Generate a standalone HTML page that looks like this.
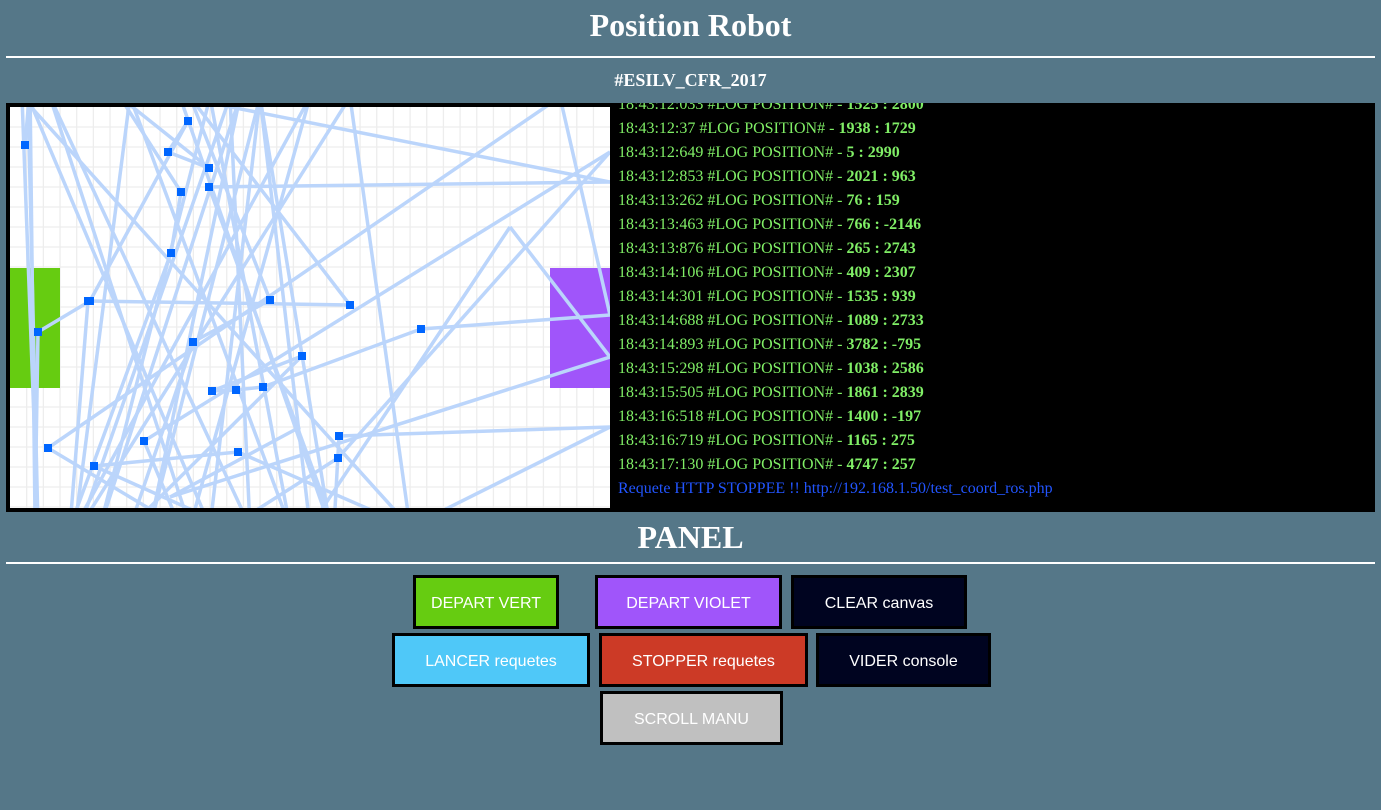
<!DOCTYPE html>
<html><head><meta charset="utf-8"><style>
body{margin:0;width:1381px;height:810px;background:#557788;font-family:"Liberation Serif",serif;color:#fff;overflow:hidden;position:relative}
h1{position:absolute;top:5px;left:0;width:1381px;margin:0;text-align:center;font-size:32px;font-weight:bold;line-height:40px}
.hr{position:absolute;left:6px;width:1369px;height:2px;background:#fff}
.sub{position:absolute;top:68px;left:0;width:1381px;text-align:center;font-size:18px;font-weight:bold;line-height:24px}
#wrap{position:absolute;left:6px;top:103px;width:1369px;height:409px;background:#000}
#cv{position:absolute;left:4px;top:4px}
#log{position:absolute;left:612px;top:0;width:750px;height:405px;overflow:hidden;font-size:16px;line-height:24px}
#log div{color:#80ee66;white-space:nowrap}
#log b{font-weight:bold}
.btn{position:absolute;border:3px solid #000;box-sizing:border-box;font-family:"Liberation Sans",sans-serif;font-size:16px;color:#fff;display:flex;align-items:center;justify-content:center;padding-top:3px}
</style></head><body>
<h1>Position Robot</h1>
<div class="hr" style="top:56px"></div>
<div class="sub">#ESILV_CFR_2017</div>
<div id="wrap">
<svg id="cv" width="600" height="401"></svg>
<div id="log">
<div style="margin-top:-10px">18:43:12:033 #LOG POSITION# - <b>1525 : 2800</b></div>
<div>18:43:12:37 #LOG POSITION# - <b>1938 : 1729</b></div>
<div>18:43:12:649 #LOG POSITION# - <b>5 : 2990</b></div>
<div>18:43:12:853 #LOG POSITION# - <b>2021 : 963</b></div>
<div>18:43:13:262 #LOG POSITION# - <b>76 : 159</b></div>
<div>18:43:13:463 #LOG POSITION# - <b>766 : -2146</b></div>
<div>18:43:13:876 #LOG POSITION# - <b>265 : 2743</b></div>
<div>18:43:14:106 #LOG POSITION# - <b>409 : 2307</b></div>
<div>18:43:14:301 #LOG POSITION# - <b>1535 : 939</b></div>
<div>18:43:14:688 #LOG POSITION# - <b>1089 : 2733</b></div>
<div>18:43:14:893 #LOG POSITION# - <b>3782 : -795</b></div>
<div>18:43:15:298 #LOG POSITION# - <b>1038 : 2586</b></div>
<div>18:43:15:505 #LOG POSITION# - <b>1861 : 2839</b></div>
<div>18:43:16:518 #LOG POSITION# - <b>1400 : -197</b></div>
<div>18:43:16:719 #LOG POSITION# - <b>1165 : 275</b></div>
<div>18:43:17:130 #LOG POSITION# - <b>4747 : 257</b></div>
<div style="color:#2255ff">Requete HTTP STOPPEE !! http://192.168.1.50/test_coord_ros.php</div>
</div>
</div>
<h1 style="top:517px">PANEL</h1>
<div class="hr" style="top:562px"></div>
<div class="btn" style="left:413px;top:575px;width:146px;height:54px;background:#66cc11">DEPART VERT</div>
<div class="btn" style="left:595px;top:575px;width:187px;height:54px;background:#a055fa">DEPART VIOLET</div>
<div class="btn" style="left:791px;top:575px;width:176px;height:54px;background:#000420">CLEAR canvas</div>
<div class="btn" style="left:392px;top:633px;width:198px;height:54px;background:#4fc8f8">LANCER requetes</div>
<div class="btn" style="left:599px;top:633px;width:209px;height:54px;background:#cc3a26">STOPPER requetes</div>
<div class="btn" style="left:816px;top:633px;width:175px;height:54px;background:#000420">VIDER console</div>
<div class="btn" style="left:600px;top:691px;width:183px;height:54px;background:#c0c0c0">SCROLL MANU</div>
<script>
// robot path in mm (table 3000 x 2000)
const pathX=[75,100,125,140,400,890,790,995,550,855,805,300,390,1700,900,1300,915,600,1460,1010,1130,1265,2055,3000,2750,190,850,670,3000,1640,1100,420,1140,2000,3000,1645,1620,995,3000,
850,1600,1250,700,1150,450,1000,1400,600,325,1500,900,200,1200,1100,350,1700,2000,60,140,90,1000,1250,1500,2500,3000,800,1450];
const pathY=[190,-100,2050,1125,970,70,225,305,-50,425,730,2100,970,990,-50,965,1175,2100,1245,1420,1415,1400,1110,1040,-50,1705,2100,1670,225,1755,2100,1795,1725,2100,1600,1645,2100,400,375,
-50,2100,-50,2100,-50,2100,-50,2100,-50,2100,-50,2100,-50,2100,-50,2100,-50,2100,-50,2100,-50,2100,-50,2100,600,1250,1950,1600];
const SX=600/3000, SY=400/2000;
const sx=v=>v*SX, sy=v=>v*SY;
const NS='http://www.w3.org/2000/svg';
const svg=document.getElementById('cv');
function mk(t,a){const e=document.createElementNS(NS,t);for(const k in a)e.setAttribute(k,a[k]);svg.appendChild(e);return e;}
mk('rect',{x:0,y:0,width:600,height:401,fill:'#fff'});
for(let x=16.67;x<600;x+=16.67){const l=mk('line',{x1:x,y1:0,x2:x,y2:401,stroke:'#ededed','stroke-width':1.3});

}
for(let y=20;y<401;y+=20){const l=mk('line',{x1:0,y1:y,x2:600,y2:y,stroke:'#ededed','stroke-width':1.3});

}
const g=mk('rect',{x:0,y:161,width:50,height:120,fill:'#66cc11'});


const v=mk('rect',{x:540,y:161,width:60,height:120,fill:'#a055fa'});


for(let i=1;i<pathX.length;i++){
const l=mk('line',{x1:sx(pathX[i-1]),y1:sy(pathY[i-1]),x2:sx(pathX[i]),y2:sy(pathY[i]),stroke:'#bbd5fb','stroke-width':3.5});


}
for(let i=0;i<39;i++){
const x=sx(pathX[i]),y=sy(pathY[i]);
if(x<2||x>596||y<2||y>398)continue;
const r=mk('rect',{x:x-4,y:y-4,width:8,height:8,fill:'#0066ff'});


}
</script>
</body></html>
